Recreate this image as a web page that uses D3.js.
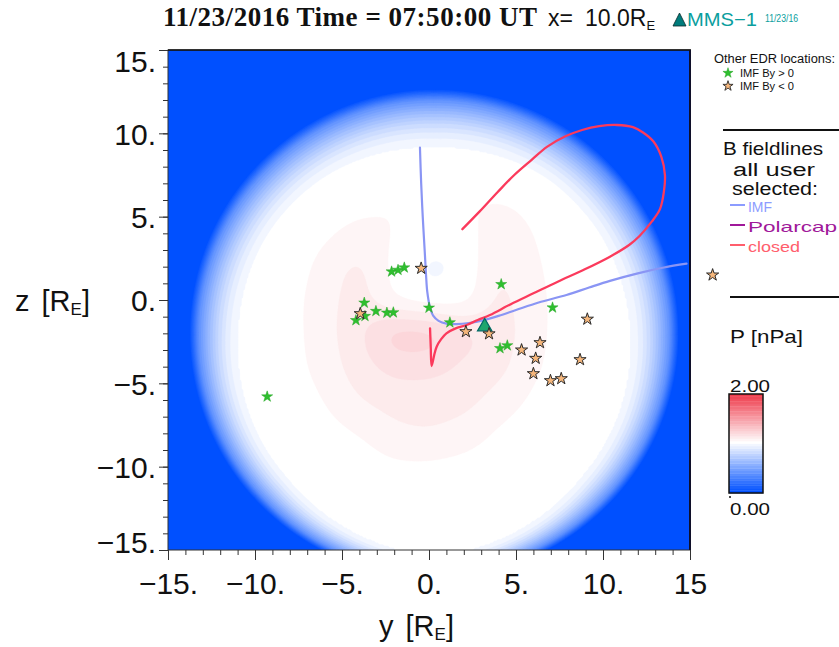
<!DOCTYPE html>
<html>
<head>
<meta charset="utf-8">
<script src="https://cdn.jsdelivr.net/npm/d3@7"></script>
<style>
  html, body { margin: 0; padding: 0; background: #ffffff; }
  svg { display: block; }
</style>
</head>
<body>
<svg id="chart" width="839" height="647"></svg>
<script>
// ---------------- data ----------------
const yTicks = [-15, -10, -5, 0, 5, 10, 15];
const yTickLabels = ["\u221215.", "\u221210.", "\u22125.", "0.", "5.", "10.", "15"];
const zTicks = [-15, -10, -5, 0, 5, 10, 15];
const zTickLabels = ["\u221215.", "\u221210.", "\u22125.", "0.", "5.", "10.", "15."];
const minorTicks = d3.range(-15, 16, 1);

// pressure disk: centre, semi-axes (R_E) and the fade from white to the blue background
const diskCentre = [0.3, -2.0];
const diskRadius = [14.3, 14.9];
const diskEdge = 0.985;
const fadeAngle = [0, 45, 90, 135, 180, 225, 270, 315, 360];
const fadeInner = [0.79, 0.77, 0.75, 0.77, 0.79, 0.83, 0.90, 0.83, 0.79];
const fadeT = [0, 0.2, 0.4, 0.6, 0.8, 1.0];
const fadeP = [1.0, 0.93, 0.80, 0.62, 0.40, 0.0];

// pressure excess in the inner region [nPa]; rows z = 6 .. -10, columns y = -8 .. 8
const excessY = [-8, -6, -4, -2, 0, 2, 4, 6, 8];
const excessZ = [6, 4, 2, 0, -2, -4, -6, -8, -10];
const excessP = [
  [0.00, 0.01, 0.03, 0.05, 0.05, 0.05, 0.05, 0.03, 0.00],
  [0.01, 0.04, 0.07, 0.05, 0.02, 0.02, 0.09, 0.05, 0.01],
  [0.02, 0.07, 0.12, 0.03, -0.015, 0.005, 0.11, 0.06, 0.02],
  [0.03, 0.08, 0.13, 0.04, 0.01, 0.02, 0.12, 0.07, 0.02],
  [0.03, 0.08, 0.14, 0.24, 0.24, 0.17, 0.13, 0.07, 0.02],
  [0.03, 0.07, 0.13, 0.17, 0.17, 0.14, 0.12, 0.06, 0.02],
  [0.02, 0.05, 0.10, 0.12, 0.12, 0.12, 0.08, 0.04, 0.01],
  [0.01, 0.03, 0.05, 0.09, 0.10, 0.08, 0.04, 0.02, 0.00],
  [0.00, 0.01, 0.02, 0.04, 0.04, 0.03, 0.02, 0.01, 0.00]
];
const pressureLevels = d3.range(0, 2.0001, 0.05);

// traced B field lines, [y, z] in R_E
const imfLine = [
  [-0.52, 9.15], [-0.45, 7.0], [-0.36, 5.0], [-0.25, 3.0], [-0.17, 1.5], [-0.1, 0.5],
  [0.05, -0.4], [0.25, -0.95], [0.55, -1.25], [1.0, -1.42], [1.6, -1.45], [2.3, -1.38],
  [3.1, -1.22], [4.0, -0.95], [5.0, -0.6], [6.3, -0.15], [7.9, 0.3], [9.2, 0.75],
  [10.4, 1.15], [12.0, 1.6], [13.5, 1.95], [14.8, 2.18]
];
const closedLine = [
  [0.06, -1.7], [0.1, -2.8], [0.15, -3.96], [0.3, -3.3], [0.44, -2.8], [0.7, -2.35],
  [1.0, -2.0], [1.5, -1.72], [2.16, -1.5], [2.8, -1.2], [3.5, -0.9], [4.7, -0.25],
  [6.0, 0.4], [7.4, 1.1], [8.87, 1.8], [10.4, 2.6], [11.5, 3.3], [12.1, 3.84],
  [12.8, 4.7], [13.28, 5.47], [13.5, 6.5], [13.56, 7.49], [13.35, 8.6], [12.89, 9.52],
  [12.3, 10.05], [11.72, 10.37], [10.8, 10.5], [9.78, 10.43], [8.8, 10.2], [7.84, 9.82],
  [6.8, 9.2], [5.9, 8.41], [4.9, 7.5], [3.95, 6.48], [2.9, 5.3], [1.92, 4.25]
];

// other EDR locations, [y, z] in R_E
const edrPositive = [
  [-2.15, 1.7], [-1.78, 1.8], [-1.42, 1.94], [4.15, 0.94], [-3.72, -0.17], [-3.05, -0.67],
  [-2.42, -0.77], [-2.05, -0.75], [0.0, -0.47], [7.1, -0.46], [-4.2, -1.22], [-3.68, -0.97],
  [1.2, -1.35], [4.08, -2.9], [4.5, -2.73], [-9.3, -5.8]
];
const edrNegative = [
  [-0.45, 1.9], [-3.95, -0.82], [9.1, -1.15], [2.12, -1.9], [3.45, -2.03], [6.38, -2.56],
  [5.32, -3.0], [6.13, -3.5], [8.68, -3.58], [6.0, -4.42], [6.98, -4.84], [7.6, -4.72],
  [16.3, 1.5]
];
const mms1 = [3.2, -1.6];

// ---------------- drawing ----------------
const svg = d3.select("#chart");
const sans = "'Liberation Sans', Arial, Helvetica, sans-serif";
const plot = { left: 168, right: 690, top: 50, bottom: 550 };

const xs = d3.scaleLinear().domain([-15, 15]).range([plot.left, plot.right]);
const zs = d3.scaleLinear().domain([-15, 15]).range([plot.bottom, plot.top]);
const colour = d3.scaleLinear().domain([0, 1, 2]).range(["#0050ff", "#ffffff", "#ee3344"]);

const fadeInnerAt = d3.scaleLinear().domain(fadeAngle).range(fadeInner);
const fadeAt = d3.scaleLinear().domain(fadeT).range(fadeP).clamp(true);

function diskPressure(y, z) {
  const dy = (y - diskCentre[0]) / diskRadius[0];
  const dz = (z - diskCentre[1]) / diskRadius[1];
  const rho = Math.hypot(dy, dz);
  let ang = Math.atan2(dz, dy) * 180 / Math.PI;
  if (ang < 0) ang += 360;
  const rin = fadeInnerAt(ang);
  return fadeAt((rho - rin) / (diskEdge - rin));
}

function excessAt(y, z) {
  const fy = (y - excessY[0]) / (excessY[1] - excessY[0]);
  const fz = (excessZ[0] - z) / (excessZ[0] - excessZ[1]);
  const get = (i, j) => (i < 0 || j < 0 || i >= excessY.length || j >= excessZ.length) ? 0 : excessP[j][i];
  const i0 = Math.floor(fy), j0 = Math.floor(fz);
  const ty = fy - i0, tz = fz - j0;
  const top = get(i0, j0) * (1 - ty) + get(i0 + 1, j0) * ty;
  const bot = get(i0, j0 + 1) * (1 - ty) + get(i0 + 1, j0 + 1) * ty;
  return top * (1 - tz) + bot * tz;
}

function boxBlur(a, n, r) {
  const t = new Float64Array(a.length);
  for (let j = 0; j < n; j++) for (let i = 0; i < n; i++) {
    let s = 0, c = 0;
    for (let k = -r; k <= r; k++) { const ii = i + k; if (ii >= 0 && ii < n) { s += a[j * n + ii]; c++; } }
    t[j * n + i] = s / c;
  }
  for (let j = 0; j < n; j++) for (let i = 0; i < n; i++) {
    let s = 0, c = 0;
    for (let k = -r; k <= r; k++) { const jj = j + k; if (jj >= 0 && jj < n) { s += t[jj * n + i]; c++; } }
    a[j * n + i] = s / c;
  }
}

// sample the pressure field on a fine grid
const N = 300, cell = 30 / N;
const excess = new Float64Array(N * N);
for (let j = 0; j < N; j++) for (let i = 0; i < N; i++) {
  excess[j * N + i] = excessAt(-15 + (i + 0.5) * cell, 15 - (j + 0.5) * cell);
}
boxBlur(excess, N, 7);
boxBlur(excess, N, 7);
const field = new Float64Array(N * N);
for (let j = 0; j < N; j++) for (let i = 0; i < N; i++) {
  field[j * N + i] = diskPressure(-15 + (i + 0.5) * cell, 15 - (j + 0.5) * cell) + excess[j * N + i] + 1e-6;
}

const gridToPlot = d3.geoTransform({
  point: function (gx, gy) { this.stream.point(xs(-15 + gx * cell), zs(15 - gy * cell)); }
});
const fieldPath = d3.geoPath(gridToPlot);

const defs = svg.append("defs");
defs.append("clipPath").attr("id", "plot-clip").append("rect")
  .attr("x", plot.left).attr("y", plot.top)
  .attr("width", plot.right - plot.left).attr("height", plot.bottom - plot.top);

const fieldG = svg.append("g").attr("clip-path", "url(#plot-clip)");
fieldG.append("rect")
  .attr("x", plot.left).attr("y", plot.top)
  .attr("width", plot.right - plot.left).attr("height", plot.bottom - plot.top)
  .attr("fill", colour(0));
const contours = d3.contours().size([N, N]).thresholds(pressureLevels)(Array.from(field));
fieldG.selectAll("path").data(contours).join("path")
  .attr("d", fieldPath)
  .attr("fill", d => colour(d.value))
  .attr("stroke", d => colour(d.value))
  .attr("stroke-width", 0.3);

// axes: minor and major ticks
function styleAxis(g) {
  g.select(".domain").remove();
  g.selectAll(".tick line").attr("stroke", "#333").attr("stroke-width", 1);
}
svg.append("g").attr("transform", `translate(0,${plot.bottom})`)
  .call(d3.axisBottom(xs).tickValues(minorTicks).tickSize(5).tickFormat(""))
  .call(styleAxis);
svg.append("g").attr("transform", `translate(${plot.left},0)`)
  .call(d3.axisLeft(zs).tickValues(minorTicks).tickSize(5).tickFormat(""))
  .call(styleAxis);

const xAxis = svg.append("g").attr("transform", `translate(0,${plot.bottom})`)
  .call(d3.axisBottom(xs).tickValues(yTicks).tickSize(10).tickPadding(13)
    .tickFormat((d, i) => yTickLabels[i]))
  .call(styleAxis);
xAxis.attr("font-family", sans).attr("font-size", 30);
xAxis.selectAll("text").attr("fill", "#111");

const zAxis = svg.append("g").attr("transform", `translate(${plot.left},0)`)
  .call(d3.axisLeft(zs).tickValues(zTicks).tickSize(9).tickPadding(3)
    .tickFormat((d, i) => zTickLabels[i]))
  .call(styleAxis);
zAxis.attr("font-family", sans).attr("font-size", 30);
zAxis.selectAll("text").attr("fill", "#111")
  .attr("dy", d => d === 15 ? "0.72em" : d === -15 ? "0.07em" : "0.36em");

// plot frame
svg.append("rect")
  .attr("x", plot.left).attr("y", plot.top)
  .attr("width", plot.right - plot.left).attr("height", plot.bottom - plot.top)
  .attr("fill", "none").attr("stroke", "#333").attr("stroke-width", 1);
svg.append("line").attr("x1", plot.left).attr("x2", plot.right + 1)
  .attr("y1", plot.top).attr("y2", plot.top).attr("stroke", "#111").attr("stroke-width", 1.6);
svg.append("line").attr("x1", plot.right).attr("x2", plot.right)
  .attr("y1", plot.top).attr("y2", plot.bottom).attr("stroke", "#10102a").attr("stroke-width", 2);

// axis titles
function titleRE(x, y, lead) {
  const t = svg.append("text").attr("x", x).attr("y", y)
    .attr("font-family", sans).attr("font-size", 29).attr("fill", "#111")
    .attr("word-spacing", 4);
  t.append("tspan").text(lead + " [R");
  t.append("tspan").attr("font-size", 17).attr("dy", 4).text("E");
  t.append("tspan").attr("dy", -4).text("]");
}
titleRE(15, 311, "z");
titleRE(379, 636, "y");

// field lines
const line = d3.line().x(d => xs(d[0])).y(d => zs(d[1])).curve(d3.curveCatmullRom.alpha(0.5));
const linesG = svg.append("g").attr("clip-path", "url(#plot-clip)").attr("fill", "none")
  .attr("stroke-linecap", "round").attr("stroke-linejoin", "round");
linesG.append("path").attr("d", line(imfLine)).attr("stroke", "#8a95f4").attr("stroke-width", 2.2);
linesG.append("path").attr("d", line(closedLine)).attr("stroke", "#fb3a5c").attr("stroke-width", 2.3);

// EDR markers
const star = d3.symbol().type(d3.symbolStar);
svg.append("g").selectAll("path").data(edrPositive).join("path")
  .attr("transform", d => `translate(${xs(d[0])},${zs(d[1])})`)
  .attr("d", star.size(38)())
  .attr("fill", "#2fbf2f").attr("stroke", "#24a424").attr("stroke-width", 0.5);
svg.append("path")
  .attr("transform", `translate(${xs(mms1[0])},${zs(mms1[1])})`)
  .attr("d", d3.symbol().type(d3.symbolTriangle).size(90)())
  .attr("fill", "#1fa66e").attr("stroke", "#006a66").attr("stroke-width", 1.2);
svg.append("g").selectAll("path").data(edrNegative).join("path")
  .attr("transform", d => `translate(${xs(d[0])},${zs(d[1])})`)
  .attr("d", star.size(46)())
  .attr("fill", "#f6b77c").attr("stroke", "#2a2a2a").attr("stroke-width", 1);

// title
svg.append("text").attr("x", 163).attr("y", 26)
  .attr("font-family", "'Liberation Serif', 'DejaVu Serif', serif").attr("font-weight", "bold")
  .attr("font-size", 27).attr("fill", "#111").attr("textLength", 374).attr("lengthAdjust", "spacing")
  .text("11/23/2016 Time = 07:50:00 UT");
const xt = svg.append("text").attr("x", 548).attr("y", 26)
  .attr("font-family", sans).attr("font-size", 23).attr("fill", "#111");
xt.append("tspan").text("x= ");
xt.append("tspan").attr("x", 585).text("10.0R");
xt.append("tspan").attr("font-size", 13).attr("dy", 4).text("E");
svg.append("path").attr("d", "M673,26 L686,26 L679.5,13 Z")
  .attr("fill", "#007c7c").attr("stroke", "#0a2a2a").attr("stroke-width", 0.8);
svg.append("text").attr("x", 687).attr("y", 26)
  .attr("font-family", sans).attr("font-size", 19).attr("fill", "#0a9e9e")
  .attr("textLength", 70).attr("lengthAdjust", "spacingAndGlyphs").text("MMS\u22121");
svg.append("text").attr("x", 765).attr("y", 22)
  .attr("font-family", sans).attr("font-size", 10).attr("fill", "#0a9e9e")
  .attr("textLength", 33).attr("lengthAdjust", "spacingAndGlyphs").text("11/23/16");

// EDR legend
svg.append("text").attr("x", 714).attr("y", 63)
  .attr("font-family", sans).attr("font-size", 12.5).attr("fill", "#111")
  .attr("textLength", 121).attr("lengthAdjust", "spacingAndGlyphs").text("Other EDR locations:");
svg.append("path").attr("transform", "translate(728,73)").attr("d", star.size(32)())
  .attr("fill", "#2fbf2f").attr("stroke", "#24a424").attr("stroke-width", 0.5);
svg.append("path").attr("transform", "translate(728,86)").attr("d", star.size(32)())
  .attr("fill", "#f6b77c").attr("stroke", "#2a2a2a").attr("stroke-width", 0.9);
svg.append("text").attr("x", 740).attr("y", 77)
  .attr("font-family", sans).attr("font-size", 11.5).attr("fill", "#111")
  .attr("textLength", 54).attr("lengthAdjust", "spacingAndGlyphs").text("IMF By > 0");
svg.append("text").attr("x", 740).attr("y", 90)
  .attr("font-family", sans).attr("font-size", 11.5).attr("fill", "#111")
  .attr("textLength", 54).attr("lengthAdjust", "spacingAndGlyphs").text("IMF By < 0");

// B field-line legend
svg.append("line").attr("x1", 723).attr("x2", 839).attr("y1", 130).attr("y2", 130)
  .attr("stroke", "#111").attr("stroke-width", 2);
function panelText(x, y, size, w, colourStr, str) {
  svg.append("text").attr("x", x).attr("y", y)
    .attr("font-family", sans).attr("font-size", size).attr("fill", colourStr)
    .attr("textLength", w).attr("lengthAdjust", "spacingAndGlyphs").text(str);
}
panelText(723, 155, 19, 100, "#111", "B fieldlines");
panelText(733, 176, 18, 82, "#111", "all user");
panelText(732, 195, 18, 86, "#111", "selected:");
const lineKeys = [
  { name: "IMF", colour: "#8c9cff", y: 205, w: 24 },
  { name: "Polarcap", colour: "#a0189a", y: 225, w: 89 },
  { name: "closed", colour: "#ff5e6c", y: 245, w: 52 }
];
lineKeys.forEach(k => {
  svg.append("line").attr("x1", 730).attr("x2", 745).attr("y1", k.y).attr("y2", k.y)
    .attr("stroke", k.colour).attr("stroke-width", 2);
  panelText(748, k.y + 7, 15, k.w, k.colour, k.name);
});
svg.append("line").attr("x1", 730).attr("x2", 839).attr("y1", 297).attr("y2", 297)
  .attr("stroke", "#111").attr("stroke-width", 2);

// colour bar
panelText(730, 343, 19, 73, "#111", "P [nPa]");
const cb = d3.scaleLinear().domain([0, 2]).range([493, 394]);
const cbStep = pressureLevels[1] - pressureLevels[0];
svg.append("g").selectAll("rect").data(pressureLevels.slice(0, -1)).join("rect")
  .attr("x", 729).attr("width", 34)
  .attr("y", d => cb(d + cbStep)).attr("height", d => cb(d) - cb(d + cbStep) + 0.3)
  .attr("fill", d => colour(d));
svg.append("rect").attr("x", 729).attr("y", 394).attr("width", 34).attr("height", 99)
  .attr("fill", "none").attr("stroke", "#111").attr("stroke-width", 1.5);
panelText(730, 392, 16, 40, "#111", "2.00");
panelText(730, 515, 16, 40, "#111", "0.00");
svg.append("circle").attr("cx", 730).attr("cy", 497).attr("r", 1).attr("fill", "#111");
</script>
</body>
</html>
